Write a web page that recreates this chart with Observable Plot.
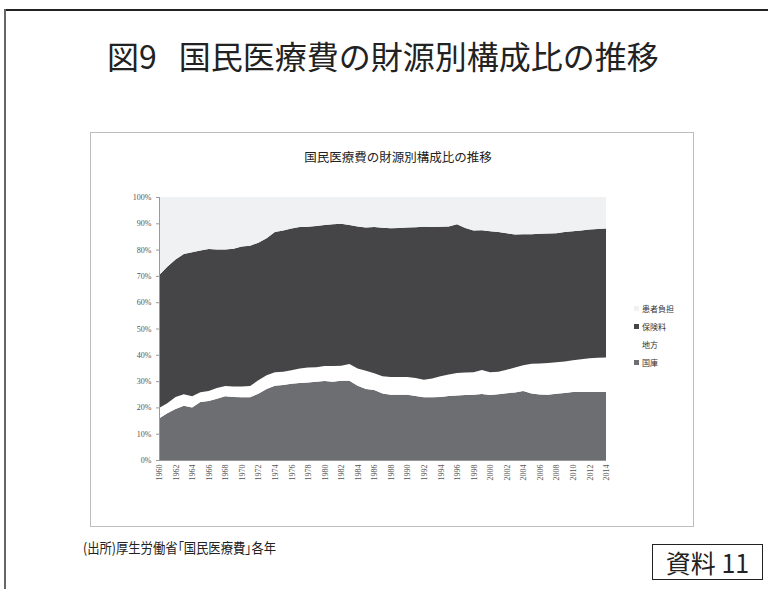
<!DOCTYPE html>
<html><head><meta charset="utf-8">
<script src="https://cdn.jsdelivr.net/npm/d3@7"></script>
<script src="https://cdn.jsdelivr.net/npm/@observablehq/plot@0.6"></script>
<style>
html,body{margin:0;padding:0;background:#fff;}
#page{position:relative;width:768px;height:589px;overflow:hidden;font-family:"Noto Sans CJK JP","Noto Sans",sans-serif;color:#222;}
.abs{position:absolute;white-space:nowrap;}
#topline{left:5px;top:9px;width:763px;height:2px;background:#222;}
#leftline{left:4px;top:9px;width:1.5px;height:580px;background:#666;}
#title{left:107px;top:34px;font-size:32px;line-height:42px;font-weight:400;}
#title .gap{display:inline-block;width:22px;}
#box{left:90px;top:132px;width:602px;height:393px;border:1px solid #bdbdbd;}
#ctitle{left:90px;width:616px;top:148px;text-align:center;font-size:12.5px;line-height:18px;}
#chart{left:90px;top:185px;}
#legend{left:634px;top:300px;font-size:8px;line-height:18px;color:#333;}
#legend .sw{display:inline-block;width:5px;height:5px;margin-right:3px;vertical-align:middle;position:relative;top:-1px;}
#caption{left:83px;top:537px;font-size:14px;line-height:20px;font-feature-settings:"palt";transform:scaleX(0.88);transform-origin:0 0;}
#badge{left:652px;top:544px;width:111px;height:36px;border:1.5px solid #222;font-size:25px;line-height:34px;text-align:center;box-sizing:border-box;}
</style></head>
<body><div id="page">
<div class="abs" id="topline"></div>
<div class="abs" id="leftline"></div>
<div class="abs" id="title">図9<span class="gap"></span>国民医療費の財源別構成比の推移</div>
<div class="abs" id="box"></div>
<div class="abs" id="ctitle">国民医療費の財源別構成比の推移</div>
<div class="abs" id="chart"></div>
<div class="abs" id="legend"></div>
<div class="abs" id="caption">(出所)厚生労働省「国民医療費」各年</div>
<div class="abs" id="badge">資料 11</div>
</div>
<script>
const years = d3.range(1960, 2015);
// shares (%) by source, 1960-2014
const kokko = [15.8,17.8,19.4,20.6,20.0,22.1,22.4,23.3,24.2,24.0,23.9,23.9,25.2,27.0,28.2,28.5,29.0,29.3,29.5,29.8,30.0,29.8,30.1,30.1,28.2,27.0,26.6,25.3,24.8,24.8,24.8,24.3,23.9,23.9,24.0,24.3,24.5,24.7,24.8,25.1,24.7,25.0,25.4,25.7,26.2,25.3,24.9,24.8,25.2,25.5,25.9,25.9,25.9,25.9,25.9];
const chiho = [4.0,3.8,4.6,4.4,4.2,3.7,3.8,4.1,3.9,3.9,4.0,4.2,5.1,5.2,5.2,5.1,5.1,5.5,5.7,5.5,5.7,5.9,5.7,6.4,6.6,6.9,6.4,6.5,6.8,6.8,6.8,6.9,6.6,7.1,7.8,8.2,8.6,8.6,8.6,9.1,8.7,8.6,8.9,9.5,9.8,11.3,11.8,12.1,12.0,12.0,12.0,12.4,12.8,13.0,13.1];
const hokenryo = [50.4,51.9,52.2,53.3,54.8,53.9,54.0,52.6,51.9,52.4,53.3,53.4,52.3,52.1,53.3,53.7,53.9,53.8,53.5,53.7,53.7,53.9,54.0,52.9,54.0,54.5,55.6,56.5,56.5,56.6,56.8,57.3,58.2,57.6,56.9,56.3,56.5,54.9,53.9,53.2,53.6,53.1,51.9,50.5,49.8,49.2,49.3,49.2,49.0,49.2,49.1,49.0,48.9,48.9,49.0];
const kanja = [29.8,26.5,23.8,21.7,21.0,20.3,19.8,20.0,20.0,19.7,18.8,18.5,17.4,15.7,13.3,12.7,12.0,11.4,11.3,11.0,10.6,10.4,10.2,10.6,11.2,11.6,11.4,11.7,11.9,11.8,11.6,11.5,11.3,11.4,11.3,11.2,10.4,11.8,12.7,12.6,13.0,13.3,13.8,14.3,14.2,14.2,14.0,13.9,13.8,13.3,13.0,12.7,12.4,12.2,12.0];
const seriesNames = ["国庫", "地方", "保険料", "患者負担"];
const seriesColors = ["#6d6e72", "#ffffff", "#454547", "#f0f1f3"];
const legendOrder = ["患者負担", "保険料", "地方", "国庫"];
const yTicks = [0,10,20,30,40,50,60,70,80,90,100];
const xTicks = d3.range(1960, 2015, 2);

const cols = [kokko, chiho, hokenryo, kanja];
const data = [];
seriesNames.forEach((s, k) => years.forEach((yr, i) => data.push({year: yr, series: s, value: cols[k][i]})));

const chart = Plot.plot({
  width: 603, height: 320,
  marginLeft: 69, marginRight: 87, marginTop: 12, marginBottom: 45,
  style: {fontFamily: "'Liberation Serif', serif", fontSize: "8px", color: "#555", background: "transparent"},
  x: {domain: [1960, 2014], label: null, axis: null},
  y: {domain: [0, 100], label: null, axis: null},
  color: {domain: seriesNames, range: seriesColors},
  marks: [
    Plot.areaY(data, {x: "year", y: "value", fill: "series", order: seriesNames}),
    Plot.ruleX([1960], {stroke: "#999", strokeWidth: 1}),
    Plot.ruleY([0], {stroke: "#999", strokeWidth: 1}),
    Plot.axisX({ticks: xTicks, tickFormat: d => String(d), tickRotate: -90, tickSize: 0, tickPadding: 4, fontSize: 8, fill: "#555", label: null}),
    Plot.axisY({ticks: yTicks, tickFormat: d => d + "%", tickSize: 3, tickPadding: 5, fontSize: 8, fill: "#555", stroke: "#999", label: null})
  ]
});
document.getElementById("chart").appendChild(chart);

const leg = document.getElementById("legend");
legendOrder.forEach(s => {
  const c = seriesColors[seriesNames.indexOf(s)];
  const row = document.createElement("div");
  row.innerHTML = `<span class="sw" style="background:${c}"></span>${s}`;
  leg.appendChild(row);
});
</script>
</body></html>
